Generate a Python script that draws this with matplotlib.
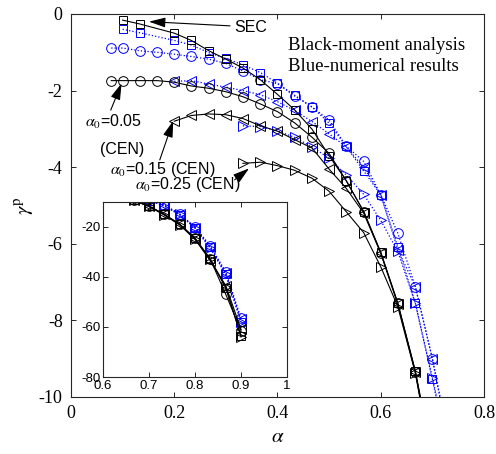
import matplotlib
matplotlib.use("Agg")
import matplotlib.pyplot as plt

plt.rcParams["font.family"] = "Liberation Serif"
plt.rcParams["mathtext.fontset"] = "stix"
plt.rcParams["axes.unicode_minus"] = False

# x positions used by the curves (alpha)
x_sq = [0.1, 0.133, 0.2, 0.233, 0.267, 0.3, 0.333, 0.367, 0.4, 0.433, 0.467, 0.5, 0.533,
        0.567, 0.6, 0.633, 0.667, 0.7, 0.733, 0.767, 0.8, 0.833, 0.867, 0.9]
x_ci = [0.078, 0.1, 0.133, 0.167, 0.2, 0.233, 0.267, 0.3, 0.333, 0.367, 0.4, 0.433, 0.467, 0.5,
        0.533, 0.567, 0.6, 0.633, 0.667, 0.7, 0.733, 0.767, 0.8, 0.833, 0.867, 0.9]
x_lt = [0.2, 0.233, 0.267, 0.3, 0.333, 0.367, 0.4, 0.433, 0.467, 0.5, 0.533, 0.567, 0.6,
        0.633, 0.667, 0.7, 0.733, 0.767, 0.8, 0.833, 0.867, 0.9]
x_rt = [0.333, 0.367, 0.4, 0.433, 0.467, 0.5, 0.533, 0.567, 0.6, 0.633, 0.667, 0.7, 0.733,
        0.767, 0.8, 0.833, 0.867, 0.9]

# black: moment analysis
sec_moment = [-0.16, -0.26, -0.50, -0.69, -0.96, -1.18, -1.41, -1.72, -2.10, -2.50, -3.01, -3.70,
              -4.35, -5.16, -6.22, -7.55, -9.32, -11.6, -14.9, -18.9, -24.5, -32.8, -44.5, -63.5]
cen005_moment = [-1.74, -1.74, -1.74, -1.74, -1.78, -1.88, -1.94, -2.03, -2.16, -2.35, -2.55, -2.84,
                 -3.22, -3.64, -4.35, -5.16, -6.23, -7.55, -9.34, -11.7, -15.0, -19.0, -24.5,
                 -32.8, -47.0, -61.5]
cen015_moment = [-2.80, -2.65, -2.61, -2.63, -2.73, -2.92, -3.06, -3.28, -3.50, -4.05, -4.55, -5.20,
                 -6.25, -7.58, -9.35, -11.7, -15.0, -19.0, -24.8, -33.5, -43.5, -61.0]
cen025_moment = [-3.90, -3.87, -3.96, -4.08, -4.29, -4.63, -5.16, -5.71, -6.60, -7.64, -9.38, -11.8,
                 -15.2, -19.2, -25.0, -33.0, -44.0, -64.0]

# blue: numerical results
sec_num = [-0.40, -0.49, -0.69, -0.81, -1.01, -1.16, -1.33, -1.53, -1.81, -2.12, -2.43, -2.85,
           -3.46, -4.10, -4.72, -6.08, -7.55, -9.54, -11.6, -15.2, -20.3, -28.0, -39.0, -58.0]
cen005_num = [-0.89, -0.89, -0.96, -1.00, -1.05, -1.11, -1.18, -1.29, -1.49, -1.72, -1.82, -2.14,
              -2.43, -2.77, -3.45, -3.85, -4.72, -5.72, -7.12, -9.00, -11.3, -14.8, -20.0, -27.5,
              -38.0, -56.5]
cen015_num = [-1.76, -1.74, -1.83, -1.91, -2.00, -2.11, -2.29, -2.52, -2.81, -3.13, -3.47, -4.00,
              -4.72, -6.15, -7.12, -9.00, -11.2, -14.9, -20.3, -27.9, -38.5, -57.0]
cen025_num = [-2.92, -2.94, -3.05, -3.22, -3.47, -3.77, -4.20, -4.71, -5.39, -6.20, -7.55, -9.50,
              -11.5, -15.0, -20.5, -28.5, -39.0, -58.0]

series = [
    (x_sq, sec_moment, sec_num, "s", 5.5),
    (x_ci, cen005_moment, cen005_num, "o", 7.0),
    (x_lt, cen015_moment, cen015_num, "<", 7.8),
    (x_rt, cen025_moment, cen025_num, ">", 7.8),
]

axcol = "#262626"


def draw(ax):
    for xs, ym, yn, mk, ms in series:
        ax.plot(xs, yn, ":", color="blue", lw=0.9, marker=mk, ms=ms,
                mfc="none", mec="blue", mew=0.7)
    for xs, ym, yn, mk, ms in series:
        ax.plot(xs, ym, "-", color="black", lw=0.8, marker=mk, ms=ms,
                mfc="none", mec="black", mew=0.7)
    for s in ax.spines.values():
        s.set_color(axcol)
        s.set_linewidth(0.8)
    ax.tick_params(direction="in", top=True, right=True, length=3.5, width=0.7, colors=axcol,
                   labelcolor="black")


fig = plt.figure(figsize=(4.96, 4.54), dpi=100)
ax = fig.add_axes([0.1431, 0.1256, 0.8327, 0.8436])
draw(ax)
ax.set_xlim(0, 0.8)
ax.set_ylim(-10, 0)
ax.set_xticks([0, 0.2, 0.4, 0.6, 0.8])
ax.set_xticklabels(["0", "0.2", "0.4", "0.6", "0.8"])
ax.set_yticks([-10, -8, -6, -4, -2, 0])
ax.set_yticklabels(["-10", "-8", "-6", "-4", "-2", "0"])
ax.tick_params(labelsize=13, pad=6)
ax.set_xlabel(r"$\alpha$", fontsize=15, labelpad=4)
ax.set_ylabel(r"$\gamma^{\mathrm{p}}$", fontsize=15, labelpad=2)

ax.text(0.42, -0.81, "Black-moment analysis", fontsize=13.5, va="center")
ax.text(0.42, -1.38, "Blue-numerical results", fontsize=13.5, va="center")

arrow = dict(arrowstyle="-|>,head_length=1.0,head_width=0.3", color="black", lw=0.8,
             mutation_scale=10, shrinkA=0, shrinkB=0)
sans = "Liberation Sans"
ax.annotate("", xy=(0.151, -0.20), xytext=(0.308, -0.31), arrowprops=arrow)
ax.text(0.317, -0.34, "SEC", fontsize=11.5, family=sans, va="center")
ax.annotate("", xy=(0.098, -1.81), xytext=(0.077, -2.51), arrowprops=arrow)
ax.text(0.027, -2.82, r"$\alpha_0$=0.05", fontsize=11.5, family=sans, va="center")
ax.text(0.056, -3.55, "(CEN)", fontsize=11.5, family=sans, va="center")
ax.annotate("", xy=(0.198, -2.79), xytext=(0.172, -3.81), arrowprops=arrow)
ax.text(0.075, -4.07, r"$\alpha_0$=0.15 (CEN)", fontsize=11.5, family=sans, va="center")
ax.annotate("", xy=(0.345, -4.03), xytext=(0.317, -4.33), arrowprops=arrow)
ax.text(0.124, -4.44, r"$\alpha_0$=0.25 (CEN)", fontsize=11.5, family=sans, va="center")

ins = fig.add_axes([0.2077, 0.1696, 0.3710, 0.3855])
draw(ins)
ins.set_xlim(0.6, 1)
ins.set_ylim(-80, -10)
ins.set_xticks([0.6, 0.7, 0.8, 0.9, 1])
ins.set_xticklabels(["0.6", "0.7", "0.8", "0.9", "1"])
ins.set_yticks([-80, -60, -40, -20])
ins.set_yticklabels(["-80", "-60", "-40", "-20"])
ins.tick_params(labelsize=9.5, pad=2)
for lab in ins.get_xticklabels() + ins.get_yticklabels():
    lab.set_family(sans)

fig.savefig("out.png", dpi=100)
